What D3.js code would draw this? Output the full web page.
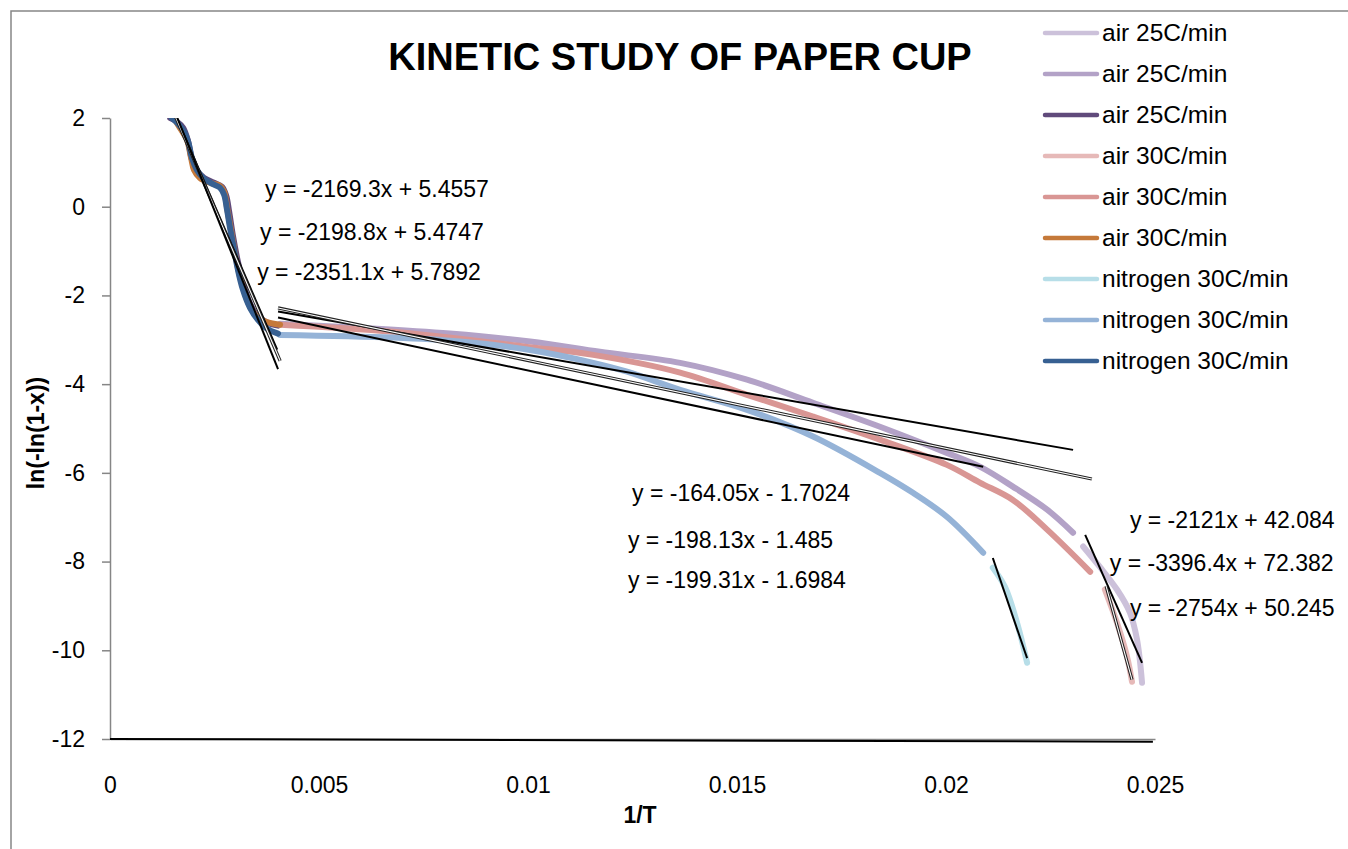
<!DOCTYPE html>
<html>
<head>
<meta charset="utf-8">
<script src="https://cdn.jsdelivr.net/npm/d3@7"></script>
<style>
  body { margin: 0; background: #fff; }
  svg { display: block; font-family: "Liberation Sans", Arial, sans-serif; }
</style>
</head>
<body>
<svg id="chart" width="1348" height="849"></svg>
<script>
// ---- data (x = 1/T, y = ln(-ln(1-x))) ----
const air25Tail = [[0.02328,-7.66],[0.02368,-8.12],[0.02409,-8.63],[0.02440,-9.15],[0.02457,-9.76],[0.02469,-10.73]];
const air25Mid = [[0.00407,-2.64],[0.00598,-2.73],[0.00813,-2.86],[0.01005,-3.04],[0.01172,-3.27],[0.01364,-3.52],
  [0.01524,-3.90],[0.01682,-4.42],[0.01842,-4.96],[0.02002,-5.55],[0.02081,-5.86],[0.02160,-6.31],[0.02242,-6.83],[0.02304,-7.35]];
const air25Early = [[0.00144,2.0],[0.00160,1.92],[0.00175,1.78],[0.00187,1.47],[0.00196,1.06],[0.00208,0.81],[0.00225,0.65],
  [0.00249,0.54],[0.00268,0.45],[0.00278,0.25],[0.00285,-0.11],[0.00294,-0.65],[0.00306,-1.24],[0.00318,-1.71],
  [0.00333,-2.14],[0.00352,-2.46],[0.00376,-2.61],[0.00402,-2.68]];
const air30Tail = [[0.02380,-8.63],[0.02409,-9.38],[0.02433,-10.14],[0.02445,-10.71]];
const air30Mid = [[0.00407,-2.66],[0.00677,-2.82],[0.00998,-3.16],[0.01156,-3.34],[0.01364,-3.74],[0.01524,-4.24],
  [0.01682,-4.73],[0.01842,-5.25],[0.02002,-5.82],[0.02081,-6.22],[0.02160,-6.61],[0.02242,-7.28],[0.02345,-8.23]];
const air30Early = [[0.00153,2.0],[0.00167,1.78],[0.00184,1.51],[0.00194,1.10],[0.00201,0.83],[0.00215,0.65],[0.00239,0.54],
  [0.00263,0.47],[0.00273,0.34],[0.00280,-0.02],[0.00290,-0.56],[0.00301,-1.15],[0.00313,-1.65],[0.00328,-2.10],
  [0.00347,-2.43],[0.00371,-2.59],[0.00407,-2.66]];
const n2Tail = [[0.02112,-8.14],[0.02141,-8.57],[0.02170,-9.38],[0.02194,-10.28]];
const n2Mid = [[0.00407,-2.89],[0.00677,-2.95],[0.00837,-3.04],[0.00998,-3.22],[0.01156,-3.52],[0.01237,-3.72],
  [0.01364,-4.13],[0.01524,-4.58],[0.01682,-5.18],[0.01842,-6.00],[0.01921,-6.45],[0.02002,-6.99],[0.02089,-7.80]];
const n2Early = [[0.00148,2.0],[0.00163,1.87],[0.00177,1.69],[0.00187,1.465],[0.00196,1.10],[0.00208,0.83],[0.00223,0.65],
  [0.00244,0.52],[0.00263,0.43],[0.00273,0.27],[0.00280,-0.07],[0.00287,-0.47],[0.00297,-0.97],[0.00306,-1.42],
  [0.00318,-1.87],[0.00335,-2.28],[0.00354,-2.55],[0.00376,-2.75],[0.00402,-2.86]];

const seriesNames = ['air 25C/min','air 25C/min','air 25C/min','air 30C/min','air 30C/min','air 30C/min',
  'nitrogen 30C/min','nitrogen 30C/min','nitrogen 30C/min'];
const seriesData = [air25Tail, air25Mid, air25Early, air30Tail, air30Mid, air30Early, n2Tail, n2Mid, n2Early];
const seriesColors = ['#CCC1DA','#B3A2C7','#604A7B','#E6B9B8','#D99694','#C5793A','#B7DEE8','#95B3D7','#376092'];

// linear trendlines: slope, intercept and the x range they were fitted over
const trendSlope = [-2169.3, -2198.8, -2351.1, -164.05, -198.13, -199.31, -2121, -3396.4, -2754];
const trendIntercept = [5.4557, 5.4747, 5.7892, -1.7024, -1.485, -1.6984, 42.084, 72.382, 50.245];
const trendFrom = [0.00145, 0.00145, 0.00145, 0.00402, 0.00402, 0.00402, 0.02333, 0.02383, 0.02112];
const trendTo = [0.00400, 0.00407, 0.00402, 0.02304, 0.02349, 0.02089, 0.02469, 0.02445, 0.02194];
const trendLabels = ['y = -2169.3x + 5.4557','y = -2198.8x + 5.4747','y = -2351.1x + 5.7892',
  'y = -164.05x - 1.7024','y = -198.13x - 1.485','y = -199.31x - 1.6984',
  'y = -2121x + 42.084','y = -3396.4x + 72.382','y = -2754x + 50.245'];
const bottomLine = [[0, -12], [0.02495, -12.06]];

const xTicks = [0, 0.005, 0.01, 0.015, 0.02, 0.025];
const yTicks = [2, 0, -2, -4, -6, -8, -10, -12];

// ---- layout ----
const plot = { left: 110, right: 1155, top: 118, bottom: 739 };
const eqAnchor = [[0.00371,0.225],[0.00359,-0.744],[0.00352,-1.646],[0.01249,-6.628],[0.01239,-7.687],[0.01239,-8.589],
  [0.02440,-7.236],[0.02392,-8.206],[0.02440,-9.220]];
const doubleTrend = [1, 4, 7]; // air 30C/min fits drawn as double lines

const svg = d3.select('#chart');
const x = d3.scaleLinear().domain([0, 0.025]).range([plot.left, plot.right]);
const y = d3.scaleLinear().domain([-12, 2]).range([plot.bottom, plot.top]);

// outer chart frame
svg.append('rect').attr('x', 11).attr('y', 11).attr('width', 1400).attr('height', 900)
  .attr('fill', 'none').attr('stroke', '#868686').attr('stroke-width', 1.5);

svg.append('defs').append('clipPath').attr('id', 'plotClip').append('rect')
  .attr('x', plot.left).attr('y', plot.top).attr('width', plot.right - plot.left).attr('height', plot.bottom - plot.top);

// y axis
const ya = svg.append('g').attr('transform', `translate(${plot.left},0)`)
  .call(d3.axisLeft(y).tickValues(yTicks).tickSize(8).tickSizeOuter(0).tickPadding(17).tickFormat(d => String(d)));
ya.select('.domain').attr('stroke', '#868686').attr('stroke-width', 1.5);
ya.selectAll('.tick line').attr('stroke', '#868686').attr('stroke-width', 1.5);
ya.selectAll('text').attr('font-size', 23).attr('fill', '#000').attr('font-family', null);

// x axis labels (no tick marks in the reference)
const xa = svg.append('g').attr('transform', `translate(0,${plot.bottom})`)
  .call(d3.axisBottom(x).tickValues(xTicks).tickSize(0).tickPadding(38).tickFormat(d => String(d)));
xa.select('.domain').attr('stroke', '#868686').attr('stroke-width', 1.5);
xa.selectAll('text').attr('font-size', 23).attr('fill', '#000').attr('font-family', null);

const line = d3.line().x(d => x(d[0])).y(d => y(d[1])).curve(d3.curveCatmullRom.alpha(0.5));
const marks = svg.append('g').attr('clip-path', 'url(#plotClip)');

marks.selectAll('path.series').data(seriesData).enter().append('path')
  .attr('class', 'series').attr('d', line).attr('fill', 'none')
  .attr('stroke', (d, i) => seriesColors[i]).attr('stroke-width', 6)
  .attr('stroke-linecap', 'round').attr('stroke-linejoin', 'round');

// trendlines
const trends = trendSlope.map((m, i) => [[trendFrom[i], m * trendFrom[i] + trendIntercept[i]], [trendTo[i], m * trendTo[i] + trendIntercept[i]]]);
const straight = d3.line().x(d => x(d[0])).y(d => y(d[1]));
trends.forEach((t, i) => {
  if (doubleTrend.includes(i)) {
    marks.append('path').attr('d', straight(t)).attr('stroke', '#222').attr('stroke-width', 3.2).attr('fill', 'none');
    marks.append('path').attr('d', straight(t)).attr('stroke', '#fff').attr('stroke-width', 1.1).attr('fill', 'none');
  } else {
    marks.append('path').attr('d', straight(t)).attr('stroke', '#000').attr('stroke-width', 2).attr('fill', 'none');
  }
});

svg.append('path').attr('d', straight(bottomLine)).attr('stroke', '#000').attr('stroke-width', 2).attr('fill', 'none');

// trendline equations
svg.append('g').selectAll('text').data(trendLabels).enter().append('text')
  .attr('x', (d, i) => x(eqAnchor[i][0])).attr('y', (d, i) => y(eqAnchor[i][1]))
  .attr('font-size', 23).attr('fill', '#000').text(d => d);

// title and axis titles
svg.append('text').attr('x', 680).attr('y', 70).attr('text-anchor', 'middle')
  .attr('font-size', 38).attr('font-weight', 'bold').text('KINETIC STUDY OF PAPER CUP');
svg.append('text').attr('x', 640).attr('y', 823).attr('text-anchor', 'middle')
  .attr('font-size', 23).attr('font-weight', 'bold').text('1/T');
svg.append('text').attr('transform', 'translate(44,433) rotate(-90)').attr('text-anchor', 'middle')
  .attr('font-size', 23).attr('font-weight', 'bold').text('ln(-ln(1-x))');

// legend
const legend = svg.append('g').attr('transform', 'translate(1043,33)');
const rows = legend.selectAll('g').data(seriesNames).enter().append('g')
  .attr('transform', (d, i) => `translate(0,${i * 41})`);
rows.append('line').attr('x1', 2).attr('x2', 54).attr('y1', 0).attr('y2', 0)
  .attr('stroke', (d, i) => seriesColors[i]).attr('stroke-width', 4.5).attr('stroke-linecap', 'round');
rows.append('text').attr('x', 59).attr('y', 8).attr('font-size', 24.5).attr('fill', '#000').text(d => d);
</script>
</body>
</html>
